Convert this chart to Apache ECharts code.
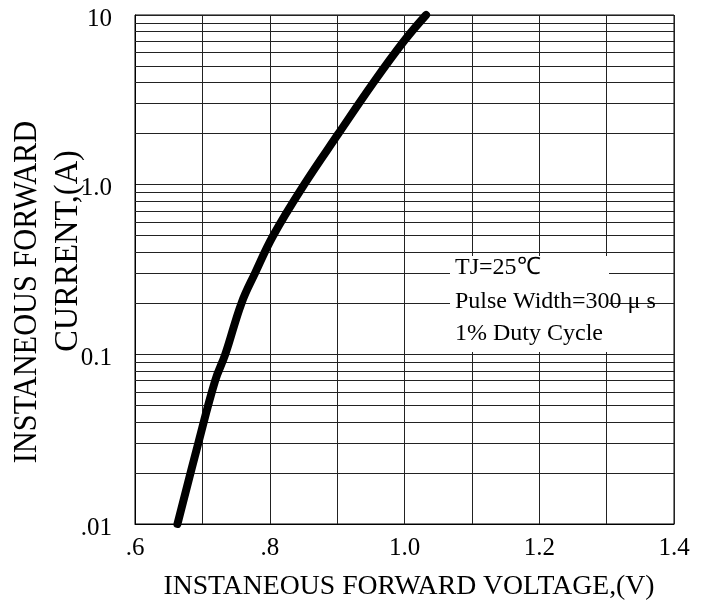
<!DOCTYPE html>
<html>
<head>
<meta charset="utf-8">
<script src="https://cdn.jsdelivr.net/npm/echarts@6/dist/echarts.min.js"></script>
<style>
html,body{margin:0;padding:0;background:#fff;}
#chart{width:707px;height:612px;}
</style>
</head>
<body>
<div id="chart"></div>
<script>
// Forward voltage (V) and forward current (A)
const voltage = [0.663, 0.694, 0.719, 0.734, 0.758, 0.778, 0.805, 0.851, 0.902, 0.954, 0.999, 1.032];
const current = [0.01, 0.03, 0.07, 0.1, 0.2, 0.3, 0.5, 1.0, 2, 4, 7, 10];

const xTickValues = [0.6, 0.8, 1.0, 1.2, 1.4];
const xTickLabels = ['.6', '.8', '1.0', '1.2', '1.4'];
const yTickValues = [0.01, 0.1, 1, 10];
const yTickLabels = ['.01', '0.1', '1.0', '10'];
const yMinorGrid = [0.02, 0.03, 0.04, 0.05, 0.06, 0.07, 0.08, 0.09,
                    0.2, 0.3, 0.4, 0.5, 0.6, 0.7, 0.8, 0.9,
                    2, 3, 4, 5, 6, 7, 8, 9];
const annotationLines = ['TJ=25\u2103', 'Pulse Width=300 \u03bc s', '1% Duty Cycle'];
const xTitle = 'INSTANEOUS FORWARD VOLTAGE,(V)';
const yTitleLines = ['INSTANEOUS FORWARD', 'CURRENT,(A)'];

const FONT = '"Liberation Serif", "Times New Roman", serif';
const gridColor = '#222';

function lookup(vals, labels, v) {
  for (let i = 0; i < vals.length; i++) {
    if (Math.abs(vals[i] - v) < 1e-6 * Math.max(1, Math.abs(v))) return labels[i];
  }
  return '';
}

const chart = echarts.init(document.getElementById('chart'), null, {renderer: 'canvas'});
const option = {
  animation: false,
  backgroundColor: '#fff',
  grid: {left: 135, right: 33, top: 15, bottom: 88, show: true, borderColor: '#000', borderWidth: 1},
  xAxis: {
    type: 'value', min: 0.6, max: 1.4, interval: 0.1,
    axisLine: {show: true, lineStyle: {color: '#000', width: 1}},
    axisTick: {show: false},
    splitLine: {show: true, lineStyle: {color: gridColor, width: 1}},
    axisLabel: {
      color: '#000', fontFamily: FONT, fontSize: 25, margin: 12,
      formatter: v => lookup(xTickValues, xTickLabels, v)
    }
  },
  yAxis: {
    type: 'log', logBase: 10, min: 0.01, max: 10,
    axisLine: {show: true, lineStyle: {color: '#000', width: 1}},
    axisTick: {show: false},
    splitLine: {show: true, lineStyle: {color: gridColor, width: 1}},
    axisLabel: {
      color: '#000', fontFamily: FONT, fontSize: 25, margin: 23,
      formatter: v => {
        const t = lookup(yTickValues, yTickLabels, v);
        return t ? '{a|' + t + '}' : '';
      },
      rich: {a: {fontFamily: FONT, fontSize: 25, color: '#000', padding: [8, 0, 0, 0]}}
    }
  },
  series: [
    {
      name: 'minorGrid', type: 'line', data: [], z: 1, silent: true,
      markLine: {
        silent: true, symbol: ['none', 'none'], animation: false,
        label: {show: false},
        lineStyle: {color: gridColor, width: 1, type: 'solid'},
        emphasis: {disabled: true},
        data: yMinorGrid.map(v => ({yAxis: v}))
      }
    },
    {
      name: 'IF', type: 'line', z: 5, clip: false,
      data: voltage.map((v, i) => [v, current[i]]),
      smooth: 0.4, showSymbol: false, symbol: 'none',
      lineStyle: {color: '#000', width: 8, cap: 'round', join: 'round'}
    }
  ],
  graphic: [
    {type: 'rect', z: 100, shape: {x: 450, y: 256, width: 159, height: 96}, style: {fill: '#fff'}},
    {type: 'text', z: 101, x: 455, y: 268, style: {text: annotationLines[0], font: '24px ' + FONT, fill: '#000', textAlign: 'left', textVerticalAlign: 'middle'}},
    {type: 'text', z: 101, x: 455, y: 302, style: {text: annotationLines[1], font: '24px ' + FONT, fill: '#000', textAlign: 'left', textVerticalAlign: 'middle'}},
    {type: 'text', z: 101, x: 455, y: 334, style: {text: annotationLines[2], font: '24px ' + FONT, fill: '#000', textAlign: 'left', textVerticalAlign: 'middle'}},
    {type: 'text', z: 101, x: 409, y: 587, scaleX: 0.99, style: {text: xTitle, font: '28px ' + FONT, fill: '#000', textAlign: 'center', textVerticalAlign: 'middle'}},
    {type: 'text', z: 101, x: 27, y: 292, rotation: Math.PI / 2, scaleX: 0.92, style: {text: yTitleLines[0], font: '33px ' + FONT, fill: '#000', textAlign: 'center', textVerticalAlign: 'middle'}},
    {type: 'text', z: 101, x: 68, y: 251, rotation: Math.PI / 2, scaleX: 0.98, style: {text: yTitleLines[1], font: '33px ' + FONT, fill: '#000', textAlign: 'center', textVerticalAlign: 'middle'}}
  ]
};
chart.setOption(option);
</script>
</body>
</html>
